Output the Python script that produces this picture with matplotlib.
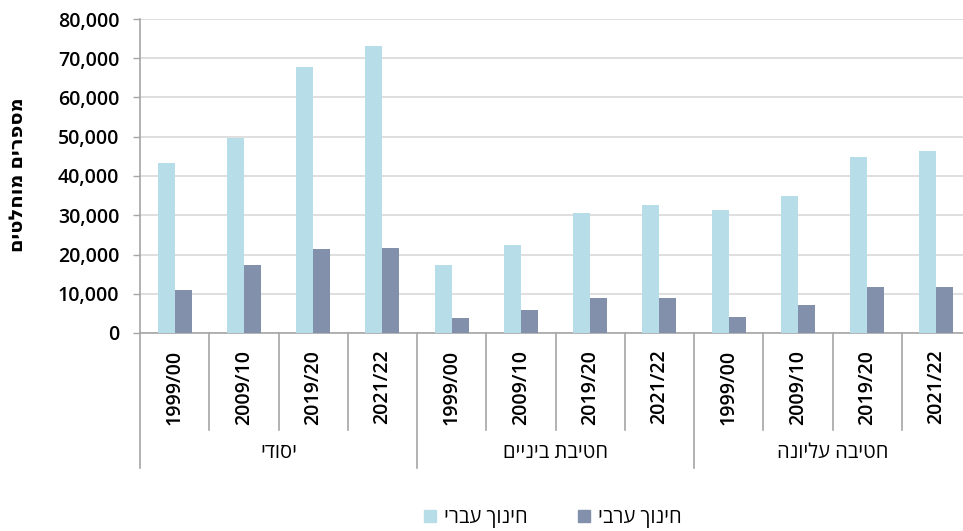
import matplotlib
matplotlib.use('Agg')
import matplotlib.pyplot as plt
from matplotlib.patches import Patch
import numpy as np

plt.rcParams['font.family'] = ['Open Sans', 'DejaVu Sans']


def heb(s):
    # matplotlib has no bidi, so Hebrew is reversed by hand
    return s[::-1]


groups = ['יסודי', 'חטיבת ביניים', 'חטיבה עליונה']
years = ['1999/00', '2009/10', '2019/20', '2021/22']

hebrew_edu = [43400, 49700, 67700, 73100,
              17300, 22300, 30600, 32600,
              31300, 34900, 44900, 46400]
arab_edu = [10900, 17300, 21300, 21700,
            3700, 5900, 8850, 8900,
            4000, 7050, 11650, 11600]

series_names = ['חינוך עברי', 'חינוך ערבי']
c_heb = '#b7dde8'
c_arab = '#8390ab'

fig = plt.figure(figsize=(9.63, 5.31), dpi=100)
ax = fig.add_axes([140 / 963, 198 / 531, 831 / 963, 314 / 531])

n = len(hebrew_edu)
x = np.arange(n)
w = 0.245
ax.bar(x - w / 2, hebrew_edu, w, color=c_heb, zorder=3)
ax.bar(x + w / 2, arab_edu, w, color=c_arab, zorder=3)

ax.set_xlim(-0.5, n - 0.5)
ax.set_ylim(0, 80000)
ax.set_yticks(range(0, 80001, 10000))
ax.set_yticklabels([f'{v:,}' for v in range(0, 80001, 10000)],
                   fontsize=14, fontweight='semibold')
ax.yaxis.grid(True, color='#d9d9d9', linewidth=1.2, zorder=0)
ax.tick_params(axis='y', length=5, color='#a6a6a6', width=1, pad=10)

for s in ['top', 'right']:
    ax.spines[s].set_visible(False)
ax.spines['left'].set_color('#a6a6a6')
ax.spines['bottom'].set_color('#a6a6a6')
ax.spines['left'].set_linewidth(1.2)
ax.spines['bottom'].set_linewidth(1.2)

# category labels
ax.set_xticks(x)
ax.set_xticklabels(years * len(groups), rotation=90, fontsize=14,
                   fontweight='semibold')
ax.tick_params(axis='x', length=0, pad=12)

# separators under the axis
trans = ax.get_xaxis_transform()
per_px = 1 / 314
for b in range(n + 1):
    xb = b - 0.5
    if b % 4 == 0:
        y_end = -(468 - 333) * per_px
    else:
        y_end = -(430 - 333) * per_px
    ax.plot([xb, xb], [0, y_end], transform=trans, color='#a6a6a6',
            linewidth=1.2, clip_on=False)

for i, g in enumerate(groups):
    ax.text(i * 4 + 1.5, -(453 - 333) * per_px, heb(g), transform=trans,
            ha='center', va='center', fontsize=14.5)

fig.text(18 / 963, 1 - 175 / 531, heb('מספרים מוחלטים'), rotation=90,
         ha='center', va='center', fontsize=14, fontweight='bold')

handles = [Patch(color=c_heb), Patch(color=c_arab)]
fig.legend(handles, [heb(s) for s in series_names], loc='center',
           bbox_to_anchor=(553 / 963, 1 - 518 / 531), ncol=2, frameon=False,
           prop={'size': 14.5}, handlelength=0.6,
           handleheight=0.6, handletextpad=0.4, columnspacing=2.5)

fig.savefig('out.png', dpi=100)
